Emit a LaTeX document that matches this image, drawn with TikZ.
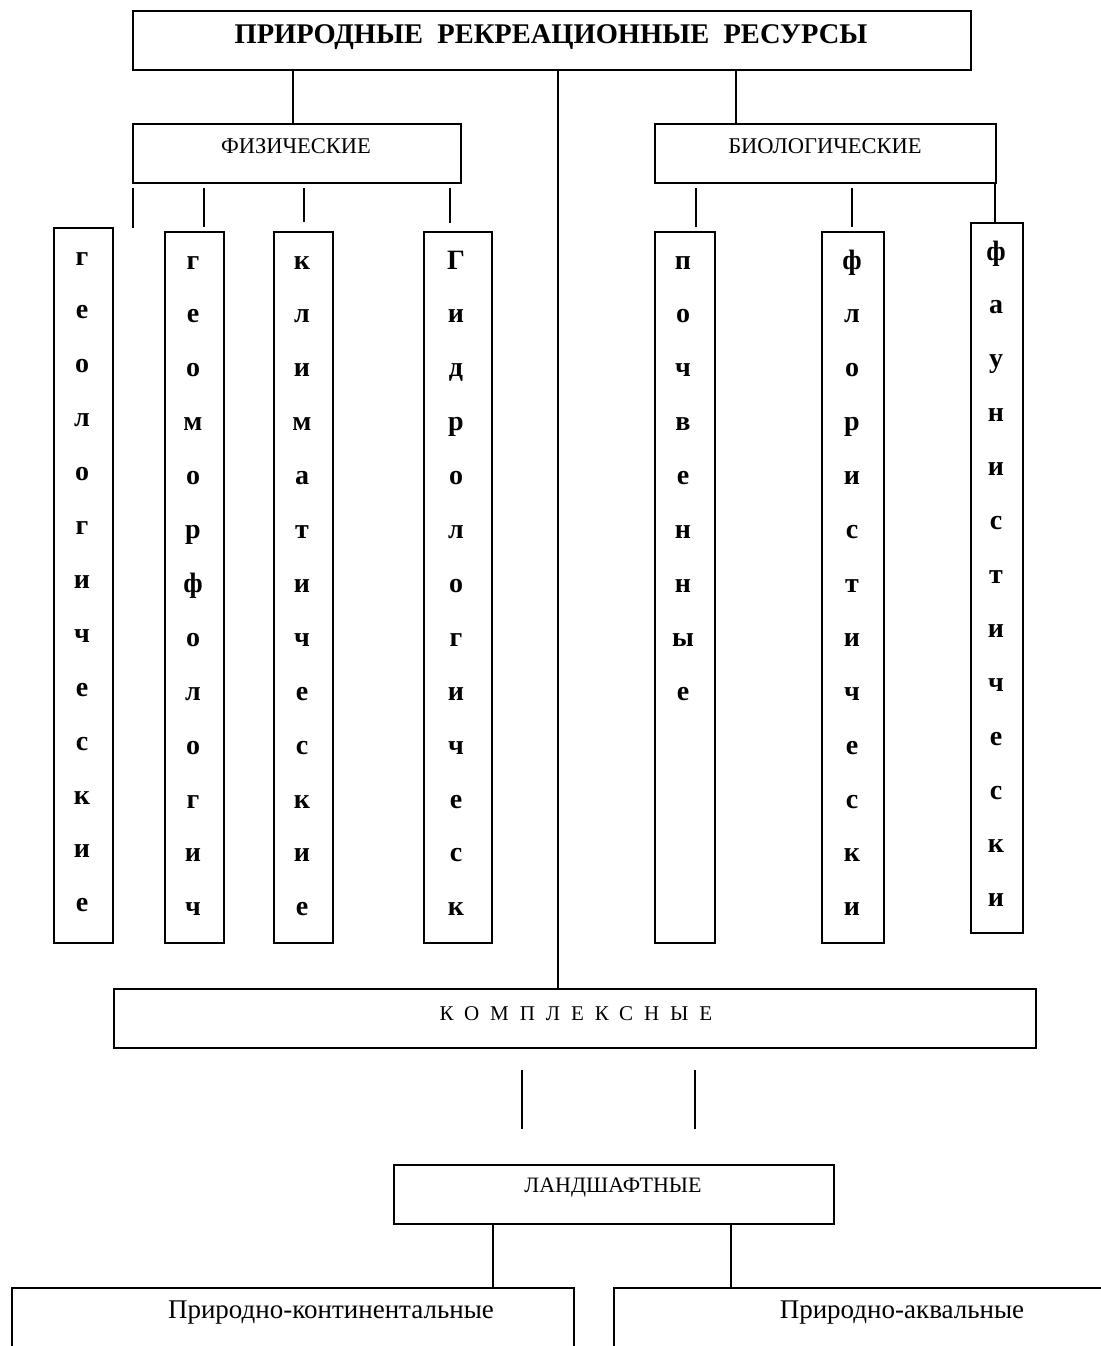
\documentclass[tikz,border=0pt]{standalone}
\usepackage{fontspec}
\setmainfont{Liberation Serif}
\begin{document}
\begin{tikzpicture}[x=1pt,y=-1pt,
  box/.style={draw, line width=1.3pt, inner sep=0pt},
  conn/.style={line width=1.3pt},
  letter/.style={anchor=base, inner sep=0pt, font=\fontsize{28}{28}\selectfont\bfseries},
  lbl/.style={inner sep=0pt}]
\useasboundingbox (0,0) rectangle (1100,1346);
\fill[white] (0,0) rectangle (1100,1346);
% boxes
\node[box, minimum width=838pt, minimum height=59pt] (top) at (552,40.5) {};
\node[box, minimum width=328pt, minimum height=59pt] (phys) at (297,153.5) {};
\node[box, minimum width=341pt, minimum height=59pt] (bio) at (825.5,153.5) {};
\node[box, minimum width=59pt, minimum height=715pt] (v1) at (83.5,585.5) {};
\node[box, minimum width=59pt, minimum height=711pt] (v2) at (194.5,587.5) {};
\node[box, minimum width=59pt, minimum height=711pt] (v3) at (303.5,587.5) {};
\node[box, minimum width=68pt, minimum height=711pt] (v4) at (458,587.5) {};
\node[box, minimum width=60pt, minimum height=711pt] (v5) at (685,587.5) {};
\node[box, minimum width=62pt, minimum height=711pt] (v6) at (853,587.5) {};
\node[box, minimum width=52pt, minimum height=710pt] (v7) at (997,578) {};
\node[box, minimum width=922pt, minimum height=59pt] (kompl) at (575,1018.5) {};
\node[box, minimum width=440pt, minimum height=59pt] (land) at (614,1194.5) {};
\node[box, minimum width=562pt, minimum height=92pt] (pk) at (293,1334) {};
\node[box, minimum width=506pt, minimum height=92pt] (pa) at (867,1334) {};
% texts
\node[lbl, font=\fontsize{28.5}{28.5}\selectfont\bfseries] (ttop) at (551,37) {ПРИРОДНЫЕ\ \ РЕКРЕАЦИОННЫЕ\ \ РЕСУРСЫ};
\node[lbl, font=\fontsize{22.5}{22.5}\selectfont] (tphys) at (296,146) {ФИЗИЧЕСКИЕ};
\node[lbl, font=\fontsize{22.5}{22.5}\selectfont] (tbio) at (825,146) {БИОЛОГИЧЕСКИЕ};
\node[lbl, font=\fontsize{21}{21}\selectfont\addfontfeature{LetterSpace=52}] (tkompl) at (576,1014) {КОМПЛЕКСНЫЕ};
\node[lbl, font=\fontsize{22}{22}\selectfont] (tland) at (613,1188) {ЛАНДШАФТНЫЕ};
\node[lbl, font=\fontsize{27}{27}\selectfont] (tpk) at (331,1313) {Природно-континентальные};
\node[lbl, font=\fontsize{27}{27}\selectfont] (tpa) at (902,1313) {Природно-аквальные};
% vertical letters
\foreach \l [count=\i from 0] in {г,е,о,л,о,г,и,ч,е,с,к,и,е}
  \node[letter] (a\i) at (82,265+\i*53.9) {\l};
\foreach \l [count=\i from 0] in {г,е,о,м,о,р,ф,о,л,о,г,и,ч}
  \node[letter] (b\i) at (193,269+\i*53.9) {\l};
\foreach \l [count=\i from 0] in {к,л,и,м,а,т,и,ч,е,с,к,и,е}
  \node[letter] (c\i) at (302,269+\i*53.9) {\l};
\foreach \l [count=\i from 0] in {Г,и,д,р,о,л,о,г,и,ч,е,с,к}
  \node[letter] (d\i) at (456,269+\i*53.9) {\l};
\foreach \l [count=\i from 0] in {п,о,ч,в,е,н,н,ы,е}
  \node[letter] (e\i) at (683,269+\i*53.9) {\l};
\foreach \l [count=\i from 0] in {ф,л,о,р,и,с,т,и,ч,е,с,к,и}
  \node[letter] (f\i) at (852,269+\i*53.9) {\l};
\foreach \l [count=\i from 0] in {ф,а,у,н,и,с,т,и,ч,е,с,к,и}
  \node[letter] (g\i) at (996,260+\i*53.9) {\l};
% connectors
\coordinate (stray) at (133,228);
\draw[conn] (293,0 |- top.south) -- (293,0 |- phys.north);
\draw[conn] (736,0 |- top.south) -- (736,0 |- bio.north);
\draw[conn] (558,0 |- top.south) -- (558,0 |- kompl.north);
\draw[conn, shorten <=4pt] (133,0 |- phys.south) -- (stray);
\draw[conn, shorten <=4pt, shorten >=4pt] (204,0 |- phys.south) -- (204,0 |- v2.north);
\draw[conn, shorten <=4pt, shorten >=9pt] (304,0 |- phys.south) -- (304,0 |- v3.north);
\draw[conn, shorten <=4pt, shorten >=8pt] (450,0 |- phys.south) -- (450,0 |- v4.north);
\draw[conn, shorten <=4pt, shorten >=4pt] (696,0 |- bio.south) -- (696,0 |- v5.north);
\draw[conn, shorten <=4pt, shorten >=4pt] (852,0 |- bio.south) -- (852,0 |- v6.north);
\draw[conn] (995,0 |- bio.south) -- (995,0 |- v7.north);
\draw[conn, shorten <=21pt, shorten >=35pt] (522,0 |- kompl.south) -- (522,0 |- land.north);
\draw[conn, shorten <=21pt, shorten >=35pt] (695,0 |- kompl.south) -- (695,0 |- land.north);
\draw[conn] (493,0 |- land.south) -- (493,0 |- pk.north);
\draw[conn] (731,0 |- land.south) -- (731,0 |- pa.north);
\end{tikzpicture}
\end{document}
